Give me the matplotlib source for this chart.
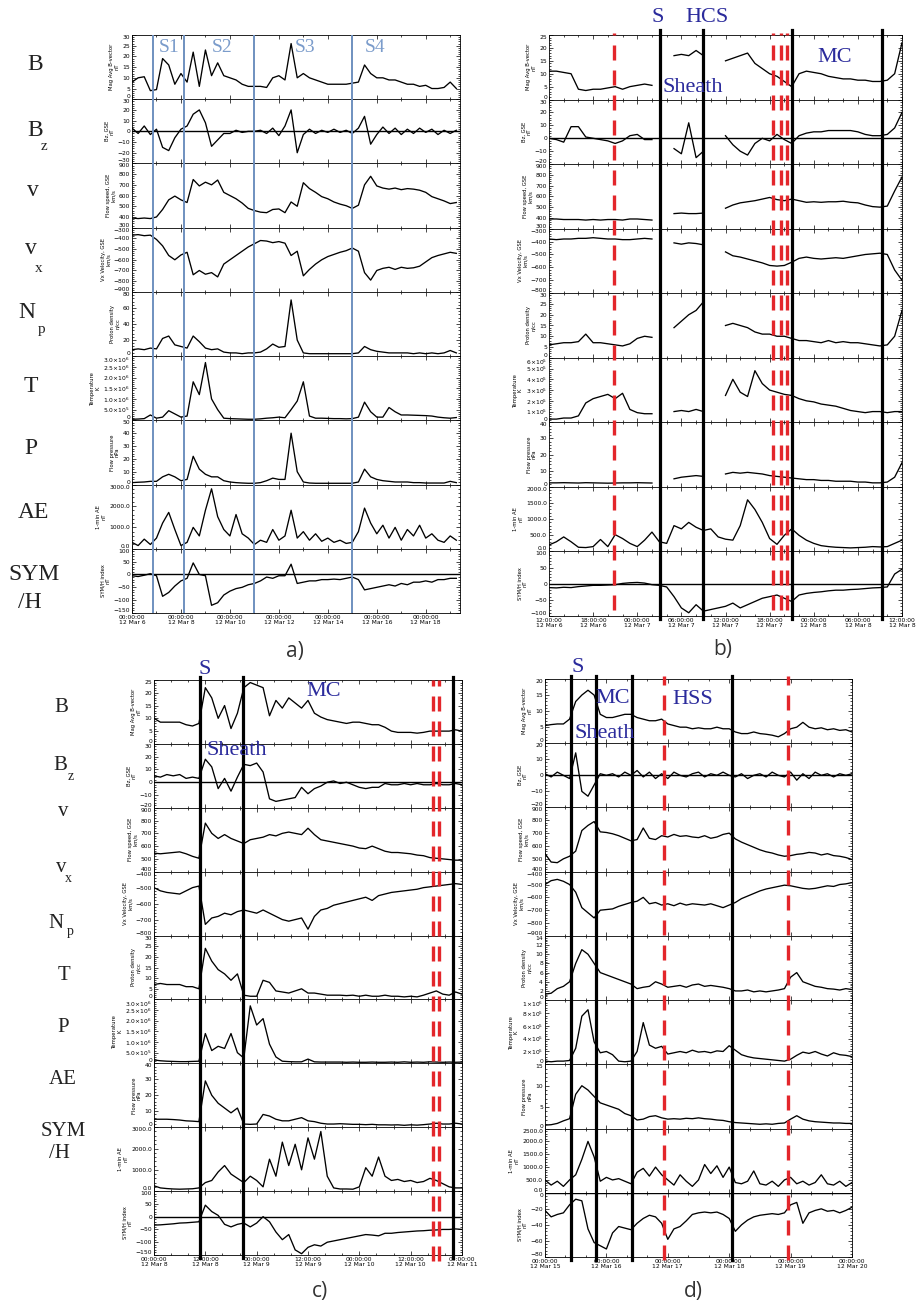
import numpy as np
import matplotlib
matplotlib.use("Agg")
import matplotlib.pyplot as plt
from matplotlib.ticker import AutoMinorLocator, FuncFormatter

# ---------------- panel a: 12 Mar 6 .. 19, days from Mar 6 00:00 ----------------
t_a = np.arange(0, 13.26, 0.25)
B_a = [8, 10, 10.5, 4, 4.5, 19, 16, 7, 12, 8,
       22, 6, 23, 11, 17, 11, 10, 9, 7, 6,
       6, 6, 5.5, 10, 11, 9, 26, 10, 12, 10,
       9, 8, 7, 7, 7, 7, 7.5, 8, 16, 12,
       10, 10, 9, 9, 8, 7, 7, 6, 6.5, 5,
       5, 5.5, 8, 5]
Bz_a = [3, -2, 5, -3, 2, -15, -18, -6, 2, 5,
        16, 20, 8, -14, -8, -2, -2, 1, -1, 0,
        0, 1, -2, 3, -4, 5, 20, -20, -3, 2,
        -2, 1, -1, 2, -1, 1, -2, 3, 14, -12,
        -3, 4, -2, 3, -3, 2, -2, 3, -1, 2,
        -3, 1, -2, 1]
V_a = [390, 385, 390, 385, 400, 470, 560, 595, 560, 535,
       750, 690, 725, 700, 745, 630, 600, 570, 530, 480,
       460, 445, 440, 470, 475, 440, 540, 500, 720, 665,
       630, 590, 570, 540, 520, 505, 480, 510, 700, 780,
       690, 670, 660, 670, 655, 665, 660, 650, 630, 590,
       570, 550, 525, 535]
Vx_a = [-370, -365, -375, -370, -410, -470, -560, -600, -555, -530,
        -740, -700, -735, -720, -760, -640, -600, -560, -520, -480,
        -450, -420, -425, -440, -430, -445, -560, -520, -750, -690,
        -640, -600, -570, -550, -530, -515, -490, -520, -720, -790,
        -700, -680, -670, -690, -670, -680, -675, -660, -620, -580,
        -560, -545, -530, -540]
Np_a = [8, 9, 8, 10, 9, 22, 25, 14, 12, 10,
        25, 18, 10, 8, 9, 5, 4, 4, 3, 4,
        4, 5, 9, 15, 11, 12, 70, 20, 4, 3,
        3, 3, 3, 3, 3, 3, 3, 4, 12, 8,
        6, 5, 4, 4, 4, 4, 3, 4, 3, 4,
        3, 4, 7, 4]
T_a = [5e4, 6e4, 8e4, 2.5e5, 1e5, 1.5e5, 4.5e5, 3e5, 1.5e5, 2e5,
       1.8e6, 1.2e6, 2.7e6, 1.0e6, 5e5, 1e5, 8e4, 7e4, 6e4, 5e4,
       5e4, 7e4, 1e5, 1.2e5, 1.5e5, 1.2e5, 5e5, 9e5, 1.8e6, 2e5,
       1e5, 1e5, 9e4, 8e4, 8e4, 7e4, 8e4, 1.5e5, 8.5e5, 4e5,
       1.5e5, 1.5e5, 6e5, 4e5, 2.5e5, 2.5e5, 2.4e5, 2.3e5, 2.2e5, 2e5,
       1.5e5, 1.2e5, 1e5, 1.3e5]
P_a = [1.5, 1.8, 2, 2.5, 2.5, 6, 8, 6, 3, 4,
       22, 12, 8, 6, 6, 3, 2, 1.5, 1.2, 1,
       1, 1.5, 3, 5, 4, 4, 40, 10, 2, 1.2,
       1, 1, 1, 1, 1, 1, 1, 2, 12, 6,
       4, 3, 2.5, 2, 2, 2, 1.5, 1.5, 1.2, 1.2,
       1.2, 1.2, 2.5, 1.5]
AE_a = [300, 150, 450, 200, 500, 1200, 1700, 900, 150, 300,
        1000, 600, 1800, 2800, 1500, 900, 600, 1600, 700, 500,
        200, 400, 300, 900, 400, 600, 1800, 500, 800, 400,
        700, 350, 500, 300, 400, 250, 300, 800, 1900, 1200,
        700, 1100, 500, 1000, 400, 900, 600, 1100, 500, 700,
        400, 300, 600, 400]
SYM_a = [-5, -8, -3, 3, -5, -85, -70, -45, -25, -15,
         45, 0, -5, -120, -110, -80, -65, -55, -50, -40,
         -35, -25, -10, -15, -5, -5, 40, -35, -30, -25,
         -25, -20, -20, -18, -20, -15, -10, -20, -60, -55,
         -50, -45, -40, -45, -35, -40, -30, -30, -25, -30,
         -20, -20, -15, -15]
blue_a = [0.84, 2.12, 4.98, 8.97]

# ---------------- panel b: hours from 12 Mar 6 12:00 ----------------
t_b = np.arange(0, 49, 1)
B_b = [11, 11, 10.5, 10, 4, 3.5, 4, 4, 4.5, 5,
       4, 5, 5.5, 6, 5.5, None, None, 17, 17.5, 17,
       19, 17, None, None, 15, 16, 17, 18, 14, 12,
       10, 9, 7, 5, 10, 11, 10.5, 10, 9, 8.5,
       8, 8, 7.5, 7.5, 7, 7, 7.5, 10, 22]
Bz_b = [0, -1, -3, 9, 9, 1, 0, -1, -2, -4,
        -2, 2, 3, -1, -1, None, None, -8, -12, 12,
        -15, -10, None, None, 2, -5, -10, -13, -4, 0,
        -2, 3, -1, -4, 2, 4, 5, 5, 6, 6,
        6, 6, 5, 3, 2, 2, 3, 8, 20]
V_b = [390, 390, 385, 385, 385, 380, 385, 380, 385, 385,
       380, 390, 390, 385, 380, None, None, 440, 445, 440,
       440, 445, None, None, 490, 520, 540, 550, 560, 575,
       590, 570, 560, 575, 560, 545, 550, 545, 550, 550,
       555, 545, 540, 520, 505, 500, 510, 650, 780]
Vx_b = [-380, -385, -380, -380, -375, -375, -370, -375, -380, -380,
        -385, -385, -380, -375, -380, None, None, -410, -420, -410,
        -415, -425, None, None, -480, -510, -520, -535, -550, -565,
        -585, -590, -585, -560, -530, -520, -530, -535, -530, -525,
        -530, -520, -510, -500, -495, -490, -500, -620, -700]
Np_b = [6, 6.5, 7, 7, 7.5, 11, 7, 7, 6.5, 6,
        5.5, 6.5, 9, 10, 9.5, None, None, 14, 17, 20,
        22, 26, None, None, 15, 16, 15, 14, 12, 11,
        11, 10, 10, 9, 8, 8, 7.5, 7, 8, 7,
        7.5, 7, 7, 6.5, 6, 5.5, 6, 10, 22]
T_b = [3e4, 3e4, 4e4, 4e4, 6e4, 1.8e5, 2.2e5, 2.4e5, 2.6e5, 2.2e5,
       2.7e5, 1.2e5, 9e4, 8e4, 8e4, None, None, 1.0e5, 1.1e5, 1.0e5,
       1.2e5, 1.0e5, None, None, 2.5e5, 4.0e5, 2.8e5, 2.4e5, 4.8e5, 3.6e5,
       3.0e5, 2.8e5, 2.6e5, 2.5e5, 2.2e5, 2.0e5, 1.9e5, 1.7e5, 1.6e5, 1.5e5,
       1.3e5, 1.1e5, 1.0e5, 9e4, 1.0e5, 1.0e5, 9e4, 1.0e5, 1.0e5]
P_b = [2.5, 2.5, 2.6, 2.5, 2.4, 2.6, 2.5, 2.4, 2.3, 2.4,
       2.5, 2.5, 2.6, 2.5, 2.4, None, None, 5, 6, 6.5,
       7, 6.5, None, None, 8, 9, 8.5, 9, 8.5, 8,
       7, 6.5, 6, 5.5, 5, 4.5, 4.5, 4, 4, 3.5,
       3.5, 3.5, 3, 3, 2.5, 2.5, 3, 6, 15]
AE_b = [200, 300, 450, 300, 130, 120, 150, 370, 150, 520,
        400, 250, 150, 350, 600, 300, 250, 800, 700, 900,
        750, 650, 700, 450, 380, 350, 800, 1600, 1300, 900,
        400, 220, 500, 700, 500, 350, 250, 180, 150, 130,
        120, 110, 120, 130, 150, 140, 150, 250, 350]
SYM_b = [-12, -13, -11, -12, -9, -7, -5, -5, -4, -3,
         1, 3, 4, 2, -3, -5, -10, -40, -75, -90,
         -65, -85, -80, -75, -70, -60, -75, -65, -55, -45,
         -40, -35, -45, -55, -35, -30, -27, -25, -22, -20,
         -20, -18, -17, -15, -13, -12, -10, 30, 45]
black_b = [15.1, 20.9, 33.0, 45.3]
red_b = [8.8, 30.5, 31.5, 32.4]

# ---------------- panel c: hours from 12 Mar 8 00:00 ----------------
t_c = np.arange(0, 72.1, 1.5)
B_c = [10, 8.5, 8.5, 8.5, 8.5, 7.5, 7, 8, 22, 18,
       10, 15, 6, 12, 22, 24, 23, 22, 11, 17,
       14, 18, 16, 14, 17, 12, 10.5, 9.5, 9, 8.5,
       8, 8.5, 8.5, 8, 7.5, 7.5, 6.5, 5, 4.5, 4.5,
       4.5, 4.2, 4.5, 5, 5, 5, 5, 5.5, 5]
Bz_c = [5, 4, 6, 5, 6, 3, 4, 3, 18, 12,
        -5, 3, -7, 4, 14, 13, 15, 8, -13, -15,
        -14, -13, -12, -4, -9, -5, -3, 0, 1, -1,
        0, -2, -4, -5, -4, -4, -1, -2, -2, -1,
        -2, -1, -2, -2, -1, -2, -2, -1, -2]
V_c = [545, 540, 545, 550, 555, 540, 520, 505, 780, 700,
       660, 690, 660, 640, 620, 650, 660, 670, 690, 680,
       700, 710, 700, 690, 740, 690, 650, 640, 630, 620,
       610, 600, 585, 580, 600, 580, 560, 550, 550, 545,
       540, 530, 525, 510, 505, 500, 495, 490, 490]
Vx_c = [-500, -520, -530, -535, -540, -520, -500, -490, -730, -690,
        -680, -660, -670, -650, -640, -650, -660, -640, -660, -680,
        -700, -710, -700, -690, -760, -680, -640, -630, -610, -600,
        -590, -580, -570, -560, -580, -550, -540, -530, -525, -520,
        -515, -510, -500, -495, -490, -485, -480, -475, -480]
Np_c = [7, 7.5, 7, 7, 7, 6, 6, 5, 24, 18,
        14, 12, 9, 12, 2, 1.5, 1.5, 9, 8, 4,
        3.5, 3, 4, 5, 3, 3, 2.5, 2, 2, 2,
        1.8, 2, 1.5, 2, 1.5, 1.5, 2, 1.5, 1.5, 1.2,
        1.5, 1.2, 2, 3, 4, 2.5, 2, 3.5, 2.5]
T_c = [1.6e5, 1.2e5, 1e5, 9e4, 8e4, 8e4, 9e4, 1e5, 1.4e6, 6e5,
       8e5, 7e5, 1.4e6, 5e5, 2.5e5, 2.7e6, 1.8e6, 2.1e6, 9e5, 3e5,
       1e5, 8e4, 7e4, 7e4, 2e5, 7e4, 6e4, 6e4, 6e4, 6e4,
       5e4, 6e4, 5e4, 5e4, 6e4, 5e4, 5e4, 6e4, 5e4, 7e4,
       5e4, 6e4, 5e4, 7e4, 6e4, 5e4, 6e4, 5e4, 6e4]
P_c = [5, 5, 5, 4.8, 4.5, 4, 3.8, 3.5, 29, 20,
       15, 12, 9, 12, 2, 1.8, 2, 8, 7, 5,
       4, 4, 5, 6, 4, 3.5, 2.5, 2, 2, 2.2,
       2, 1.8, 1.8, 1.6, 1.8, 1.5, 1.5, 1.4, 1.5, 1.2,
       1.5, 1.3, 1.6, 2, 2.5, 2, 2, 2.5, 2]
AE_c = [250, 150, 120, 100, 90, 100, 110, 150, 400, 500,
        900, 1200, 800, 600, 400, 700, 500, 200, 1500, 700,
        2300, 1200, 2200, 1000, 2500, 1500, 2800, 700, 150, 100,
        100, 90, 200, 1100, 700, 1600, 700, 500, 550, 450,
        500, 400, 450, 600, 500, 350, 200, 150, 150]
SYM_c = [-33, -32, -30, -28, -25, -24, -22, -20, 45, 20,
         5, -30, -40, -30, -25, -40, -25, 0, -20, -60,
         -90, -70, -130, -145, -120, -110, -115, -100, -95, -90,
         -85, -80, -75, -70, -72, -75, -65, -65, -62, -60,
         -58, -56, -55, -53, -52, -50, -50, -48, -50]
black_c = [10.75, 20.9, 69.9]
red_c = [65.2, 66.6]

# ---------------- panel d: days from 12 Mar 15 00:00 ----------------
t_d = np.round(np.arange(0, 5.01, 0.1), 2)
B_d = [5.5, 5.8, 6, 6, 7.5, 13, 15, 16.5, 15, 9,
       8, 8, 8.5, 9, 9, 8, 7.5, 7, 7, 7.5,
       6, 5.5, 5, 5, 4.5, 4.8, 4.5, 4.5, 5, 4.5,
       4.5, 3.5, 3, 3, 3.5, 3, 2.8, 2.5, 2, 3,
       4.5, 5, 6.5, 5, 4.5, 4.8, 4.2, 4.5, 4, 4.2,
       3.5]
Bz_d = [1, -1, 2, 0, -2, 14, -10, -13, -6, 1,
        0, 1, -1, 2, 0, 3, -1, 2, -2, 1,
        -2, 2, 0, -1, 1, 2, -1, 1, 0, 2,
        0, -1, 1, -2, 0, 1, -1, 2, 0, -1,
        2, -3, 1, -2, 2, 0, 1, -1, 1, 0,
        1]
V_d = [540, 475, 470, 500, 520, 560, 720, 760, 790, 710,
       705, 695, 680, 660, 640, 650, 740, 660, 650, 680,
       670, 690, 675, 680, 670, 665, 680, 660, 670, 690,
       700, 655, 630, 610, 590, 570, 555, 545, 530, 520,
       525, 535, 540, 550, 545, 530, 540, 525, 520, 510,
       495]
Vx_d = [-500, -470, -460, -475, -500, -560, -680, -720, -760, -700,
        -695, -690, -670, -655, -640, -630, -600, -650, -640, -660,
        -650, -665, -645, -660, -650, -655, -660, -650, -665, -680,
        -660, -640, -610, -590, -570, -550, -535, -525, -515, -505,
        -510, -520, -530, -535, -530, -520, -510, -515, -500, -495,
        -485]
Np_d = [1.3, 1.5, 2.5, 3, 4, 8, 11, 10, 8, 6,
        5.5, 5, 4.5, 4, 3.5, 2.5, 2.8, 3, 4, 3.5,
        2.8, 3, 3.2, 2.8, 3.3, 3.5, 3, 3.2, 3, 2.8,
        2.5, 2, 2, 2.2, 1.8, 2, 1.8, 2, 2.2, 2.5,
        5, 6, 4, 3.5, 3, 2.8, 2.5, 2.4, 2.2, 2.5,
        2.3]
T_d = [5e4, 4e4, 5e4, 5e4, 6e4, 2.5e5, 7.5e5, 8.5e5, 3.5e5, 1.8e5,
       2e5, 1.5e5, 5e4, 4e4, 5e4, 2e5, 6.5e5, 3e5, 2.5e5, 2.8e5,
       1.6e5, 1.8e5, 2e5, 1.8e5, 2.2e5, 1.9e5, 2e5, 1.8e5, 2.1e5, 2e5,
       2.9e5, 2.2e5, 1.5e5, 1.2e5, 1e5, 9e4, 8e4, 7e4, 6e4, 5e4,
       8e4, 1.4e5, 1.9e5, 1.7e5, 2e5, 1.6e5, 1.3e5, 1.8e5, 1.5e5, 1.4e5,
       1.2e5]
P_d = [0.8, 0.9, 1.2, 1.8, 2.3, 8, 10, 9, 7.5, 6,
       5.5, 5, 4.5, 3.5, 3, 2, 2.2, 2.8, 3, 2.5,
       2.2, 2.3, 2.2, 2.4, 2.3, 2.5, 2.3, 2.2, 2, 1.9,
       1.6, 1.4, 1.3, 1.2, 1.1, 1, 1.1, 1, 1.2, 1.3,
       2.2, 3, 2.2, 1.8, 1.6, 1.5, 1.4, 1.3, 1.3, 1.2,
       1.2]
AE_d = [500, 300, 450, 250, 500, 700, 1300, 2000, 1400, 450,
        600, 500, 550, 450, 350, 800, 950, 650, 1000, 700,
        500, 300, 700, 450, 250, 500, 1100, 750, 1050, 600,
        1000, 400, 350, 450, 850, 350, 300, 450, 250, 500,
        600, 350, 450, 300, 400, 700, 350, 300, 450, 250,
        400]
SYM_d = [-22, -30, -27, -25, -15, -8, -10, -45, -62, -66,
         -70, -50, -42, -44, -46, -38, -32, -28, -30, -38,
         -58, -45, -42, -35, -27, -25, -24, -25, -24, -27,
         -32, -48, -40, -34, -30, -28, -27, -26, -27, -25,
         -15, -12, -38, -25, -22, -20, -23, -22, -25, -22,
         -18]
black_d = [0.43, 0.83, 1.41, 3.05]
red_d = [1.94, 3.95]

YLABELS = ["Mag Avg B-vector\nnT", "Bz, GSE\nnT", "Flow speed, GSE\nkm/s",
           "Vx Velocity, GSE\nkm/s", "Proton density\nn/cc", "Temperature\nK",
           "Flow pressure\nnPa", "1-min AE\nnT", "SYM/H index\nnT"]

W, H = 923, 1309
fig = plt.figure(figsize=(W / 100, H / 100), dpi=100)

RED = "#e3262b"
NAVY = "#2b2b9c"
SERIF = "Liberation Serif"
DASH = (0, (4.5, 3.0))


def sci(dec):
    def f(v, pos):
        if abs(v) < 1e-9:
            return "0"
        if v < 0:
            return ""
        e = int(np.floor(np.log10(v) + 1e-9))
        m = v / 10 ** e
        return rf"${m:.{dec}f}\!\times\!10^{{{e}}}$"
    return FuncFormatter(f)


def draw_panel(box, t, data, ranges, tdec, xlim, xticks, xlabels, xminor):
    left, top, right, bottom = box
    rh = (bottom - top) / 9
    for i, vals in enumerate(data):
        lo, hi, step = ranges[i]
        y0 = top + i * rh
        ax = fig.add_axes([left / W, 1 - (y0 + rh) / H, (right - left) / W, rh / H])
        ax.plot(t, np.array(vals, dtype=float), color="black", lw=0.95)
        ax.set_xlim(xlim)
        ax.set_ylim(lo, hi)
        ax.set_yticks(np.arange(lo, hi + step / 2, step))
        ax.yaxis.set_minor_locator(AutoMinorLocator(5))
        ax.set_xticks(xticks)
        ax.xaxis.set_minor_locator(AutoMinorLocator(xminor))
        ax.tick_params(which="both", direction="in", top=True, right=True,
                       width=0.5, labelsize=4.3, pad=1.5)
        ax.tick_params(which="major", length=3)
        ax.tick_params(which="minor", length=1.5)
        for s in ax.spines.values():
            s.set_linewidth(0.6)
        if i == 8:
            ax.set_xticklabels(xlabels, fontsize=4.3, linespacing=1.0)
        else:
            ax.tick_params(labelbottom=False)
        if i in (1, 8):
            ax.axhline(0, color="black", lw=1.0)
        if i == 5:
            ax.yaxis.set_major_formatter(sci(tdec))
        if i == 7:
            ax.yaxis.set_major_formatter(FuncFormatter(lambda v, p: f"{v:.1f}"))
        # keep the end labels inside their own row so neighbours do not collide
        yt = ax.yaxis.get_major_ticks()
        yt[0].label1.set_verticalalignment("bottom")
        yt[-1].label1.set_verticalalignment("top")
        ax.set_ylabel(YLABELS[i], fontsize=3.8, labelpad=2, linespacing=1.0)
    ov = fig.add_axes([left / W, 1 - bottom / H, (right - left) / W, (bottom - top) / H])
    ov.set_xlim(xlim)
    ov.set_ylim(0, 1)
    ov.axis("off")
    return ov


def fig_text(x, y, s, **kw):
    fig.text(x / W, 1 - y / H, s, ha="center", va="center", **kw)


def time_labels(times, days):
    return [f"{a}\n12 Mar {d}" for a, d in zip(times, days)]


# ---- panel a ----
ov = draw_panel((132, 35, 460, 613), t_a,
                [B_a, Bz_a, V_a, Vx_a, Np_a, T_a, P_a, AE_a, SYM_a],
                [(0, 30, 5), (-30, 30, 10), (300, 900, 100), (-900, -300, 100),
                 (0, 80, 20), (0, 3e6, 5e5), (0, 50, 10), (0, 3000, 1000), (-150, 100, 50)],
                1, (0, 13.4), [0, 2, 4, 6, 8, 10, 12],
                time_labels(["00:00:00"] * 7, [6, 8, 10, 12, 14, 16, 18]), 2)
for x in blue_a:
    ov.axvline(x, color="#6f90bf", lw=1.4)
for x, s in zip([169, 222, 305, 375], ["S1", "S2", "S3", "S4"]):
    fig_text(x, 47, s, color="#7b9ccb", family=SERIF, fontsize=14)

# ---- panel b ----
ov = draw_panel((549, 35, 902, 616), t_b,
                [B_b, Bz_b, V_b, Vx_b, Np_b, T_b, P_b, AE_b, SYM_b],
                [(0, 25, 5), (-20, 30, 10), (300, 900, 100), (-800, -300, 100),
                 (0, 30, 5), (0, 6e5, 1e5), (0, 40, 10), (0, 2000, 500), (-100, 100, 50)],
                0, (0, 48), list(range(0, 49, 6)),
                time_labels(["12:00:00", "18:00:00", "00:00:00", "06:00:00", "12:00:00",
                             "18:00:00", "00:00:00", "06:00:00", "12:00:00"],
                            [6, 6, 7, 7, 7, 7, 8, 8, 8]), 3)
for x in black_b:
    ov.axvline(x, ymin=-0.005, ymax=1.008, color="black", lw=2.3, clip_on=False)
for x in red_b:
    ov.axvline(x, ymin=0.01, ymax=1.003, color=RED, lw=2.4, ls=DASH, clip_on=False)
fig_text(658, 17, "S", color=NAVY, family=SERIF, fontsize=16)
fig_text(707, 17, "HCS", color=NAVY, family=SERIF, fontsize=16)
fig_text(693, 88, "Sheath", color=NAVY, family=SERIF, fontsize=16)
fig_text(835, 57, "MC", color=NAVY, family=SERIF, fontsize=16)

# ---- panel c ----
ov = draw_panel((154, 680, 462, 1255), t_c,
                [B_c, Bz_c, V_c, Vx_c, Np_c, T_c, P_c, AE_c, SYM_c],
                [(0, 25, 5), (-20, 30, 10), (400, 900, 100), (-800, -400, 100),
                 (0, 30, 5), (0, 3e6, 5e5), (0, 40, 10), (0, 3000, 1000), (-150, 100, 50)],
                1, (0, 72), list(range(0, 73, 12)),
                time_labels(["00:00:00", "12:00:00"] * 3 + ["00:00:00"],
                            [8, 8, 9, 9, 10, 10, 11]), 3)
for x in black_c:
    ov.axvline(x, ymin=-0.005, ymax=1.005, color="black", lw=2.3, clip_on=False)
for x in red_c:
    ov.axvline(x, ymin=-0.01, ymax=1.0, color=RED, lw=2.4, ls=DASH, clip_on=False)
fig_text(205, 669, "S", color=NAVY, family=SERIF, fontsize=16)
fig_text(324, 691, "MC", color=NAVY, family=SERIF, fontsize=16)
fig_text(237, 750, "Sheath", color=NAVY, family=SERIF, fontsize=16)

# ---- panel d ----
ov = draw_panel((545, 679, 852, 1257), t_d,
                [B_d, Bz_d, V_d, Vx_d, Np_d, T_d, P_d, AE_d, SYM_d],
                [(0, 20, 5), (-20, 20, 10), (400, 900, 100), (-900, -400, 100),
                 (0, 14, 2), (0, 1e6, 2e5), (0, 15, 5), (0, 2500, 500), (-80, 0, 20)],
                0, (0, 5), [0, 1, 2, 3, 4, 5],
                time_labels(["00:00:00"] * 6, [15, 16, 17, 18, 19, 20]), 3)
for x in black_d:
    ov.axvline(x, ymin=-0.005, ymax=1.005, color="black", lw=2.3, clip_on=False)
for x in red_d:
    ov.axvline(x, ymin=-0.005, ymax=1.005, color=RED, lw=2.4, ls=DASH, clip_on=False)
fig_text(578, 668, "S", color=NAVY, family=SERIF, fontsize=16)
fig_text(613, 698, "MC", color=NAVY, family=SERIF, fontsize=16)
fig_text(605, 733, "Sheath", color=NAVY, family=SERIF, fontsize=16)
fig_text(693, 700, "HSS", color=NAVY, family=SERIF, fontsize=16)

# ---- big row names on the left ----
LBL = "#222222"


def row_names(pos, size, sub):
    for (x, y, s, sx, sy, ss) in pos:
        fig_text(x, y, s, color=LBL, family=SERIF, fontsize=size)
        if ss:
            fig_text(x + sx, y + sy, ss, color=LBL, family=SERIF, fontsize=sub)


row_names([(35, 64, "B", 0, 0, ""), (35, 130, "B", 9, 17, "z"),
           (33, 191, "v", 0, 0, ""), (31, 249, "v", 8, 19, "x"),
           (27, 313, "N", 15, 16, "p"), (31, 387, "T", 0, 0, ""),
           (31, 449, "P", 0, 0, ""), (33, 513, "AE", 0, 0, ""),
           (34, 574, "SYM", 0, 0, ""), (30, 602, "/H", 0, 0, "")], 17, 11)
row_names([(61, 707, "B", 0, 0, ""), (60, 765, "B", 11, 11, "z"),
           (63, 811, "v", 0, 0, ""), (61, 868, "v", 7, 10, "x"),
           (56, 923, "N", 14, 8, "p"), (64, 975, "T", 0, 0, ""),
           (63, 1027, "P", 0, 0, ""), (63, 1079, "AE", 0, 0, ""),
           (63, 1131, "SYM", 0, 0, ""), (59, 1153, "/H", 0, 0, "")], 15, 10)

# ---- panel letters ----
for x, y, s in [(295, 652, "a)"), (723, 650, "b)"), (320, 1292, "c)"), (693, 1292, "d)")]:
    fig_text(x, y, s, color="#333333", family="Open Sans", fontsize=15)

fig.savefig("out.png", dpi=100)
